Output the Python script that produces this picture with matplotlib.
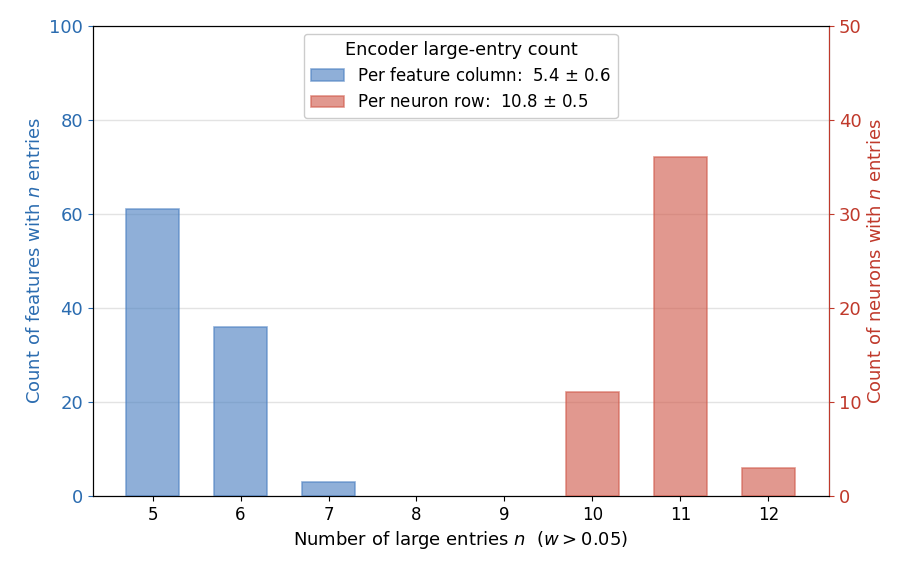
import numpy as np
import matplotlib
matplotlib.use("Agg")
import matplotlib.pyplot as plt

# data
n_values = [5, 6, 7, 8, 9, 10, 11, 12]
feature_n = [5, 6, 7]
feature_counts = [61, 36, 3]
neuron_n = [10, 11, 12]
neuron_counts = [11, 36, 3]

blue = "#2B6CB0"
red = "#C0392B"

fig, ax = plt.subplots(figsize=(9.1, 5.72), dpi=100)
ax2 = ax.twinx()

b1 = ax.bar(feature_n, feature_counts, width=0.6, color="#4A7FC1", alpha=0.62,
            edgecolor="#4A7FC1", lw=1.2, zorder=3,
            label="Per feature column:  5.4 $\\pm$ 0.6")
b2 = ax2.bar(neuron_n, neuron_counts, width=0.6, color="#D0594A", alpha=0.62,
             edgecolor="#D0594A", lw=1.2, zorder=3,
             label="Per neuron row:  10.8 $\\pm$ 0.5")

ax.set_ylim(0, 100)
ax2.set_ylim(0, 50)
ax.set_xlim(4.32, 12.69)
ax.set_xticks(n_values)
ax.set_yticks(np.arange(0, 101, 20))
ax2.set_yticks(np.arange(0, 51, 10))

ax.grid(axis="y", color="#e3e3e3", lw=1, zorder=0)
ax.set_axisbelow(True)

ax.set_xlabel("Number of large entries $n$  ($w > 0.05$)", fontsize=13)
ax.set_ylabel("Count of features with $n$ entries", color=blue, fontsize=13)
ax2.set_ylabel("Count of neurons with $n$ entries", color=red, fontsize=13)

ax.tick_params(axis="y", colors=blue, labelsize=13)
ax.tick_params(axis="x", labelsize=12)
ax2.tick_params(axis="y", colors=red, labelsize=13)
ax2.spines["right"].set_color(red)

ax.legend([b1, b2], [b1.get_label(), b2.get_label()],
          title="Encoder large-entry count", loc="upper center",
          fontsize=12, title_fontsize=12.8, framealpha=1)

fig.subplots_adjust(left=0.102, right=0.911, top=0.955, bottom=0.133)
fig.savefig("out.png", dpi=100)
